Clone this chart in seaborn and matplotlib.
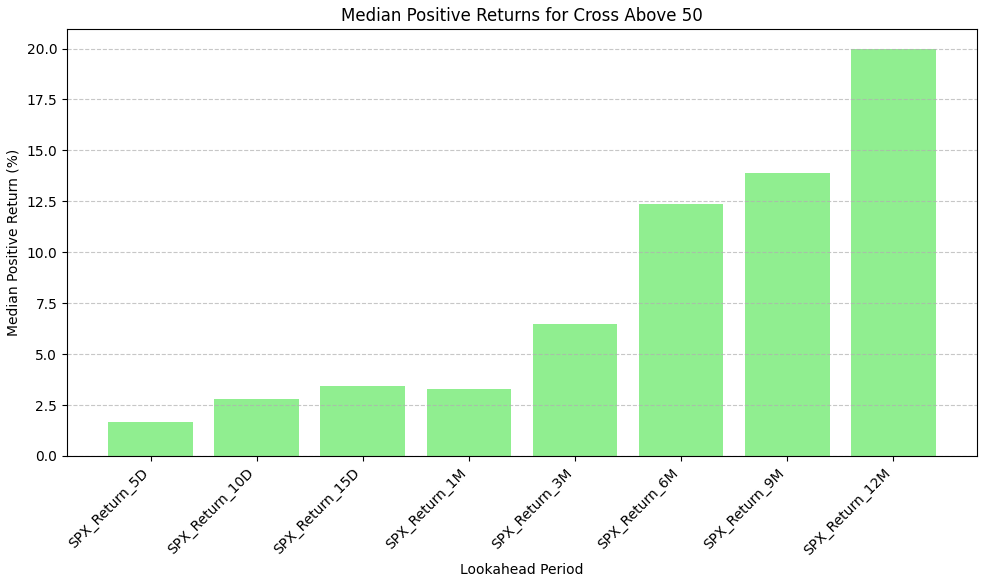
import pandas as pd
import matplotlib
matplotlib.use("Agg")
import matplotlib.pyplot as plt
import seaborn as sns

# Median positive returns per lookahead period
periods = ["SPX_Return_5D", "SPX_Return_10D", "SPX_Return_15D", "SPX_Return_1M",
           "SPX_Return_3M", "SPX_Return_6M", "SPX_Return_9M", "SPX_Return_12M"]
median_returns = [1.67, 2.79, 3.43, 3.28, 6.47, 12.37, 13.89, 19.96]

df = pd.DataFrame({"Lookahead Period": periods, "Median Positive Return (%)": median_returns})

fig, ax = plt.subplots(figsize=(9.81, 5.82), dpi=100)
sns.barplot(
    data=df,
    x="Lookahead Period",
    y="Median Positive Return (%)",
    color="lightgreen",
    saturation=1,
    width=0.8,
    ax=ax,
)

# seaborn pins the x limits; restore matplotlib's default 5% margins
ax.set_autoscalex_on(True)
ax.margins(x=0.05)
ax.autoscale_view()

ax.set_title("Median Positive Returns for Cross Above 50")
ax.set_xlabel("Lookahead Period")
ax.set_ylabel("Median Positive Return (%)")
plt.xticks(rotation=45, ha="right")
ax.grid(axis="y", linestyle="--", alpha=0.7)

fig.subplots_adjust(left=0.0683, right=0.9959, top=0.9502, bottom=0.2165)
plt.savefig("out.png", dpi=100)
